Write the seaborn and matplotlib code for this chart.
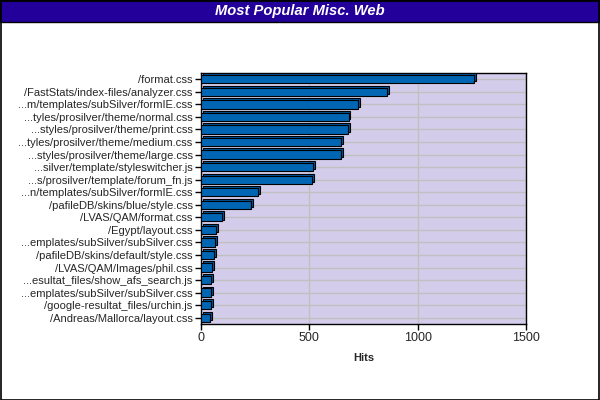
import matplotlib
matplotlib.use("Agg")
import matplotlib.pyplot as plt
import matplotlib.patheffects as pe
from matplotlib.patches import Rectangle
import seaborn as sns
import pandas as pd

pages = [
    "/format.css",
    "/FastStats/index-files/analyzer.css",
    "...m/templates/subSilver/formIE.css",
    "...tyles/prosilver/theme/normal.css",
    "...styles/prosilver/theme/print.css",
    "...tyles/prosilver/theme/medium.css",
    "...styles/prosilver/theme/large.css",
    "...silver/template/styleswitcher.js",
    "...s/prosilver/template/forum_fn.js",
    "...n/templates/subSilver/formIE.css",
    "/pafileDB/skins/blue/style.css",
    "/LVAS/QAM/format.css",
    "/Egypt/layout.css",
    "...emplates/subSilver/subSilver.css",
    "/pafileDB/skins/default/style.css",
    "/LVAS/QAM/Images/phil.css",
    "...esultat_files/show_afs_search.js",
    "...emplates/subSilver/subSilver.css",
    "/google-resultat_files/urchin.js",
    "/Andreas/Mallorca/layout.css",
]
hits = [1258, 857, 723, 681, 677, 646, 645, 515, 511, 262, 231, 95, 68, 63, 59, 52, 48, 45, 45, 40]
x_ticks = [0, 500, 1000, 1500]
title = "Most Popular Misc. Web"
x_label = "Hits"

df = pd.DataFrame({"page": [f"{i:02d}" for i in range(len(pages))], "hits": hits})

sns.set_theme(style="white")
plt.rcParams["font.family"] = ["Liberation Sans", "DejaVu Sans"]

fig = plt.figure(figsize=(6, 4), dpi=100)
fig.patch.set_facecolor("white")
# title band and outer border
fig.patches.append(Rectangle((0, 1 - 22 / 400), 1, 22 / 400, transform=fig.transFigure,
                             facecolor="#220099", edgecolor="black", linewidth=1, zorder=0))
fig.patches.append(Rectangle((0.001, 0.001), 0.997, 0.997, transform=fig.transFigure,
                             facecolor="none", edgecolor="black", linewidth=1.2, zorder=5))
fig.text(0.5, 1 - 11.5 / 400, title, color="white", fontsize=10.6, fontweight="bold",
         fontstyle="italic", ha="center", va="center")

ax = fig.add_axes([201 / 600, 1 - 324 / 400, 325 / 600, 251 / 400])
ax.set_facecolor("#D3CDEB")
sns.barplot(data=df, y="page", x="hits", orient="h", color="#0066B3", saturation=1,
            edgecolor="black", linewidth=0.8, width=0.66, ax=ax, zorder=3)
for p in ax.patches:
    p.set_path_effects([pe.PathPatchEffect(offset=(1.4, 1.4), facecolor="#00569C",
                                           edgecolor="black", linewidth=0.8),
                        pe.Normal()])
ax.set_yticks(range(len(pages)))
ax.set_yticklabels(pages, fontsize=8)
ax.set_xlim(0, 1500)
ax.set_ylim(len(pages) - 0.5, -0.5)
ax.set_xticks(x_ticks)
ax.set_xticklabels([str(t) for t in x_ticks], fontsize=9)
ax.grid(True, color="#C0C0C0", linewidth=1, zorder=0)
ax.set_axisbelow(True)
ax.tick_params(axis="both", length=4, width=1, color="black", direction="out", pad=2,
               left=True, bottom=True)
for s in ax.spines.values():
    s.set_color("black")
    s.set_linewidth(1)
ax.set_ylabel("")
ax.set_xlabel(x_label, fontsize=8, fontweight="bold", labelpad=6)

fig.savefig("out.png", dpi=100)
